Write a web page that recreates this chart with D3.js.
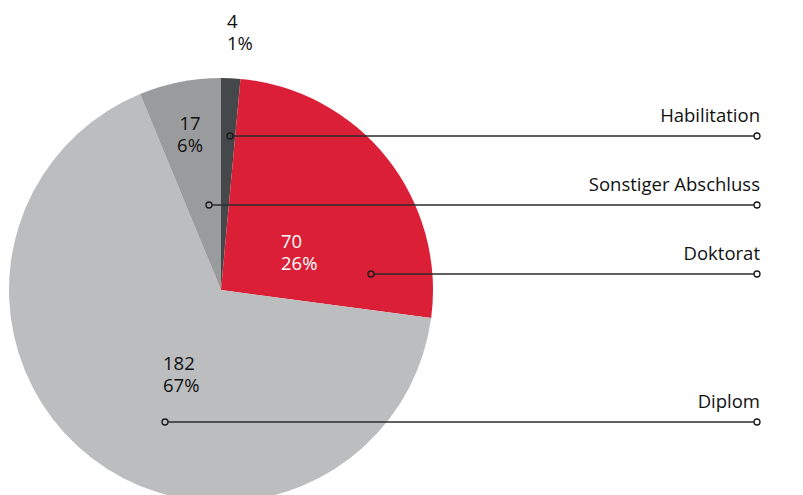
<!DOCTYPE html>
<html>
<head>
<meta charset="utf-8">
<script src="https://cdn.jsdelivr.net/npm/d3@7"></script>
<style>
  body { margin: 0; background: #fff; }
  text { font-family: 'Open Sans', sans-serif; font-size: 18.5px; fill: #111; }
</style>
</head>
<body>
<div id="chart"></div>
<script>
// data, clockwise from 12 o'clock
const categories = ['Habilitation', 'Doktorat', 'Diplom', 'Sonstiger Abschluss']
const counts = [4, 70, 182, 17]
const percents = ['1%', '26%', '67%', '6%']
const colors = ['#45484a', '#db1f37', '#bcbdbf', '#9a9b9d']

// callout layout (pixel offsets from pie centre)
const dotPos = { 'Habilitation': [9, -154], 'Sonstiger Abschluss': [-12, -85], 'Doktorat': [150, -16], 'Diplom': [-56, 132] }
const valuePos = { 'Habilitation': [6, -262, 'start'], 'Sonstiger Abschluss': [-31, -160, 'middle'], 'Doktorat': [60, -42, 'start'], 'Diplom': [-58, 80, 'start'] }

const width = 803
const height = 495
const cx = 221
const cy = 290
const radius = 212
const lineEnd = 757

const svg = d3.select('#chart').append('svg')
  .attr('width', width)
  .attr('height', height)

const rows = categories.map((c, i) => ({ name: c, count: counts[i], pct: percents[i], color: colors[i] }))

const pie = d3.pie().sort(null).value(d => d.count)
const arc = d3.arc().innerRadius(0).outerRadius(radius)

const g = svg.append('g').attr('transform', 'translate(' + cx + ',' + cy + ')')

g.selectAll('path.slice')
  .data(pie(rows))
  .enter()
  .append('path')
  .attr('class', 'slice')
  .attr('d', arc)
  .attr('fill', d => d.data.color)

// value labels
const vals = g.selectAll('text.val')
  .data(rows)
  .enter()
  .append('text')
  .attr('class', 'val')
  .attr('text-anchor', d => valuePos[d.name][2])
  .style('fill', d => d.name === 'Doktorat' ? '#fff' : '#111')

vals.append('tspan')
  .attr('x', d => valuePos[d.name][0])
  .attr('y', d => valuePos[d.name][1])
  .text(d => d.count)
vals.append('tspan')
  .attr('x', d => valuePos[d.name][0])
  .attr('dy', 22)
  .text(d => d.pct)

// leader lines
const call = g.selectAll('g.callout')
  .data(rows)
  .enter()
  .append('g')
  .attr('class', 'callout')

call.append('line')
  .attr('x1', d => dotPos[d.name][0] + 3)
  .attr('x2', lineEnd - cx - 3)
  .attr('y1', d => dotPos[d.name][1])
  .attr('y2', d => dotPos[d.name][1])
  .attr('stroke', '#2b2b2b')
  .attr('stroke-width', 1.5)

call.selectAll('circle')
  .data(d => [[dotPos[d.name][0], dotPos[d.name][1]], [lineEnd - cx, dotPos[d.name][1]]])
  .enter()
  .append('circle')
  .attr('cx', p => p[0])
  .attr('cy', p => p[1])
  .attr('r', 3)
  .attr('fill', 'none')
  .attr('stroke', '#1a1a1a')
  .attr('stroke-width', 1.3)

call.append('text')
  .attr('x', lineEnd - cx + 3)
  .attr('y', d => dotPos[d.name][1] - 14)
  .attr('text-anchor', 'end')
  .text(d => d.name)
</script>
</body>
</html>
